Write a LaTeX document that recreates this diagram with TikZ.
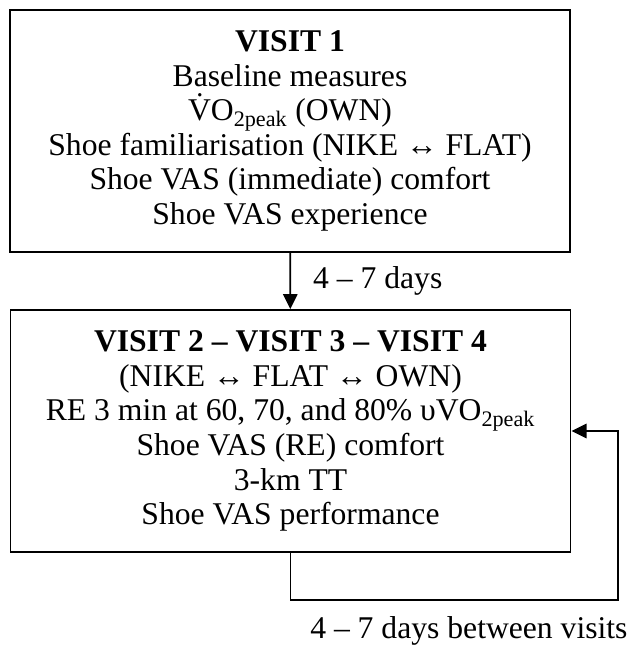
\documentclass[tikz,border=0pt]{standalone}
\usepackage{fontspec}
\setmainfont{Liberation Serif}
\usetikzlibrary{arrows.meta}

\begin{document}
\begin{tikzpicture}[x=0.025cm, y=-0.025cm,
  visit/.style={draw, line width=1.3pt, minimum width=14cm, minimum height=6.05cm,
    align=center, inner sep=0pt, font=\fontsize{22.5}{24.6}\selectfont},
  gap/.style={inner sep=0pt, anchor=west, font=\fontsize{22.5}{24.6}\selectfont},
  arr/.style={line width=1.3pt, -{Triangle[length=0.375cm, width=0.36cm]}}]
\useasboundingbox (0,0) rectangle (628,648);
% the two visit boxes
\node[visit] (v1) at (290,131) {\textbf{VISIT 1}\\
  Baseline measures\\
  \.{V}O\textsubscript{2peak} (OWN)\\
  Shoe familiarisation (NIKE ↔ FLAT)\\
  Shoe VAS (immediate) comfort\\
  Shoe VAS experience};
\node[visit] (v2) at (290.5,431) {\textbf{VISIT 2 – VISIT 3 – VISIT 4}\\
  (NIKE ↔ FLAT ↔ OWN)\\
  RE 3 min at 60, 70, and 80\% υVO\textsubscript{2peak}\\
  Shoe VAS (RE) comfort\\
  3-km TT\\
  Shoe VAS performance};
% arrows
\draw[arr] (v1) -- node[gap, xshift=0.55cm] {4 – 7 days} (v2);
\coordinate (back) at (618,600);
\draw[arr] (v2.south) |- (back) |- (v2.east);
\node[gap] (between) at (310,631) {4 – 7 days between visits};
\end{tikzpicture}
\end{document}
